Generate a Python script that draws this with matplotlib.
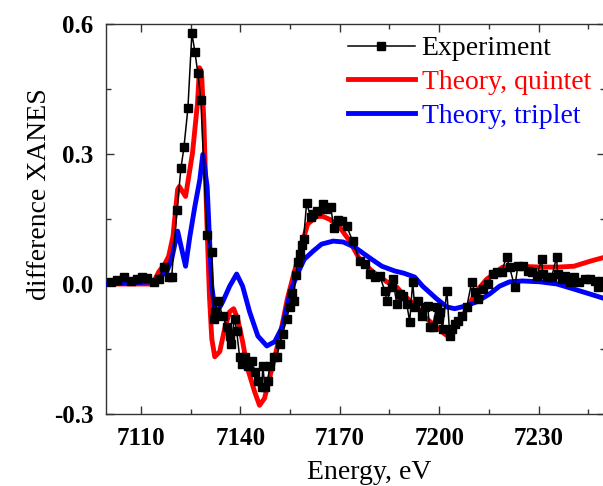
import matplotlib
matplotlib.use("Agg")
import matplotlib.pyplot as plt
from matplotlib.ticker import MultipleLocator

plt.rcParams.update({"font.family": ["Liberation Serif", "DejaVu Serif"],
                     "xtick.direction": "in", "ytick.direction": "in"})

# experiment (energy eV, difference XANES)
exp_e = [7101.0, 7102.8, 7104.9, 7107.0, 7108.8, 7110.3, 7111.8, 7113.9, 7115.4, 7116.9,
         7118.4, 7119.3, 7120.9, 7122.1, 7123.0, 7124.2, 7125.4, 7126.3, 7127.2, 7128.1,
         7129.9, 7131.4, 7132.0, 7132.3, 7133.2, 7134.7, 7135.9, 7136.8, 7137.1, 7138.3,
         7138.9, 7139.8, 7140.4, 7141.4, 7142.3, 7143.5, 7144.4, 7145.3, 7146.5, 7146.8,
         7147.4, 7148.3, 7148.9, 7150.1, 7151.0, 7151.9, 7152.8, 7154.0, 7154.9, 7155.5,
         7156.1, 7156.7, 7157.3, 7157.9, 7158.5, 7159.1, 7160.0, 7161.3, 7161.9, 7163.1,
         7164.9, 7165.8, 7167.3, 7168.2, 7169.4, 7170.6, 7172.1, 7173.9, 7176.0, 7177.5,
         7179.0, 7180.5, 7182.1, 7183.6, 7184.2, 7185.7, 7186.0, 7187.2, 7188.1, 7189.0,
         7190.2, 7191.1, 7192.0, 7192.6, 7193.5, 7194.7, 7195.6, 7196.5, 7197.1, 7198.0,
         7199.2, 7199.5, 7200.1, 7201.0, 7202.3, 7203.2, 7203.8, 7204.7, 7205.6, 7206.8,
         7208.3, 7209.8, 7210.7, 7211.6, 7213.1, 7214.6, 7216.1, 7217.3, 7218.8, 7220.3,
         7221.2, 7222.8, 7223.7, 7225.2, 7226.7, 7227.9, 7229.4, 7230.9, 7231.2, 7232.4,
         7233.9, 7235.4, 7235.7, 7236.9, 7237.8, 7239.3, 7240.8, 7242.3, 7243.9, 7245.4,
         7246.9, 7247.8, 7249.0]
exp_v = [0.005, 0.009, 0.016, 0.007, 0.011, 0.016, 0.014, 0.005, 0.011, 0.039,
         0.016, 0.016, 0.170, 0.267, 0.315, 0.405, 0.579, 0.536, 0.487, 0.425,
         0.113, 0.074, -0.080, -0.064, -0.039, -0.074, -0.099, -0.120, -0.138, -0.080,
         -0.108, -0.168, -0.184, -0.168, -0.189, -0.177, -0.202, -0.223, -0.237, -0.189,
         -0.237, -0.223, -0.189, -0.168, -0.168, -0.138, -0.115, -0.080, -0.053, -0.020,
         -0.039, 0.020, 0.050, 0.069, 0.090, 0.105, 0.186, 0.154, 0.161, 0.168,
         0.184, 0.172, 0.177, 0.129, 0.147, 0.145, 0.133, 0.099, 0.053, 0.046,
         0.023, 0.016, 0.018, -0.016, -0.039, -0.007, 0.011, -0.046, -0.023, -0.028,
         -0.046, -0.087, 0.005, -0.053, -0.039, -0.074, -0.053, -0.051, -0.099, -0.099,
         -0.053, -0.080, -0.064, -0.103, -0.016, -0.120, -0.103, -0.092, -0.085, -0.074,
         -0.053, 0.005, -0.018, -0.034, -0.011, 0.000, 0.023, 0.028, 0.028, 0.062,
         0.039, -0.007, 0.041, 0.041, 0.030, 0.028, 0.018, 0.057, 0.023, 0.016,
         0.016, 0.062, 0.023, 0.011, 0.018, 0.005, 0.016, 0.005, 0.011, 0.011,
         0.007, -0.007, 0.007]

# theory, quintet
qui_e = [7099.5, 7112.7, 7113.9, 7115.4, 7117.2, 7118.4, 7119.7, 7121.1, 7121.6, 7123.5,
         7125.6, 7127.1, 7127.7, 7128.3, 7129.0, 7129.9, 7130.7, 7131.4, 7132.3, 7133.8,
         7135.3, 7136.8, 7138.0, 7139.2, 7140.7, 7142.2, 7144.3, 7145.8, 7147.3, 7148.8,
         7150.3, 7152.4, 7154.2, 7156.3, 7158.4, 7160.3, 7163.0, 7164.9, 7167.0, 7170.0,
         7173.0, 7176.0, 7180.0, 7184.2, 7187.2, 7189.0, 7193.2, 7196.2, 7199.2, 7201.6,
         7202.5, 7205.3, 7208.3, 7211.3, 7214.3, 7217.3, 7219.1, 7223.8, 7230.7, 7235.8,
         7240.6, 7245.7, 7250.0]
qui_v = [0.000, 0.000, 0.005, 0.028, 0.046, 0.064, 0.110, 0.218, 0.225, 0.202,
         0.303, 0.418, 0.499, 0.490, 0.379, 0.149, -0.028, -0.126, -0.168, -0.156,
         -0.103, -0.064, -0.057, -0.080, -0.133, -0.195, -0.248, -0.280, -0.264, -0.218,
         -0.172, -0.103, -0.034, 0.028, 0.087, 0.138, 0.156, 0.156, 0.149, 0.131,
         0.099, 0.057, 0.028, 0.005, -0.007, -0.023, -0.053, -0.080, -0.099, -0.115,
         -0.120, -0.097, -0.057, -0.016, 0.011, 0.028, 0.039, 0.041, 0.039, 0.039,
         0.041, 0.053, 0.062]

# theory, triplet
tri_e = [7099.5, 7113.9, 7116.0, 7117.8, 7119.3, 7121.1, 7123.5, 7124.8, 7126.3, 7127.8,
         7128.7, 7130.0, 7130.9, 7131.4, 7132.3, 7133.2, 7134.7, 7136.8, 7138.9, 7140.7,
         7142.8, 7145.3, 7148.0, 7150.4, 7152.8, 7155.0, 7157.5, 7159.3, 7162.0, 7164.5,
         7168.0, 7171.0, 7174.5, 7178.7, 7182.7, 7186.6, 7189.3, 7192.6, 7195.0, 7199.2,
         7202.3, 7204.7, 7208.3, 7211.3, 7215.2, 7218.2, 7221.2, 7225.2, 7230.4, 7235.5,
         7240.3, 7245.4, 7250.0]
tri_v = [0.000, 0.005, 0.018, 0.028, 0.057, 0.122, 0.041, 0.110, 0.179, 0.241,
         0.299, 0.225, 0.074, -0.005, -0.057, -0.062, -0.041, -0.005, 0.023, -0.005,
         -0.064, -0.120, -0.143, -0.133, -0.097, -0.020, 0.028, 0.057, 0.076, 0.092,
         0.099, 0.097, 0.085, 0.062, 0.041, 0.030, 0.025, 0.016, -0.005, -0.034,
         -0.053, -0.057, -0.050, -0.041, -0.023, -0.005, 0.005, 0.007, 0.005, 0.000,
         -0.011, -0.023, -0.034]

x_ticks = [7110, 7140, 7170, 7200, 7230]
y_ticks = [-0.3, 0.0, 0.3, 0.6]

fig = plt.figure(figsize=(6.03, 4.86), dpi=100)
ax = fig.add_axes([106 / 603, 72 / 486, 499 / 603, 390 / 486])

ax.plot(qui_e, qui_v, color="#ff0000", lw=3.5, label="Theory, quintet", zorder=2)
ax.plot(tri_e, tri_v, color="#0000ff", lw=3.5, label="Theory, triplet", zorder=3)
ax.plot(exp_e, exp_v, color="black", lw=1.1, marker="s", ms=5.3,
        label="Experiment", zorder=4)

ax.set_xlim(7099.5, 7250)
ax.set_ylim(-0.3, 0.6)
ax.set_xticks(x_ticks)
ax.set_yticks(y_ticks)
ax.set_yticklabels([f"{v:.1f}" for v in y_ticks])
ax.xaxis.set_minor_locator(MultipleLocator(15))
ax.yaxis.set_minor_locator(MultipleLocator(0.15))
ax.tick_params(which="both", top=True, right=True, color="#333", width=1)
ax.tick_params(which="major", length=5.5, labelsize=18, pad=9)
ax.tick_params(which="minor", length=3.5)
for lab in ax.get_xticklabels() + ax.get_yticklabels():
    lab.set_fontweight("bold")
for s in ax.spines.values():
    s.set_color("#333")
    s.set_linewidth(1.0)

fig.text(369 / 603, 1 - 479 / 486, "Energy, eV", fontsize=20, ha="center", va="baseline")
fig.text(40 / 603, 1 - 194 / 486, "difference XANES", fontsize=20, rotation=90,
         ha="center", va="center")

h, l = ax.get_legend_handles_labels()
order = [2, 0, 1]
leg = ax.legend([h[i] for i in order], [l[i] for i in order], loc="upper left",
                bbox_to_anchor=(348 / 603, 1 - 36 / 486), bbox_transform=fig.transFigure,
                frameon=False, fontsize=20, numpoints=1, handlelength=2.4,
                handletextpad=0.25, labelspacing=0.3, borderpad=0, borderaxespad=0)
for txt, c in zip(leg.get_texts(), ["black", "#ff0000", "#0000ff"]):
    txt.set_color(c)

fig.savefig("out.png", dpi=100)
